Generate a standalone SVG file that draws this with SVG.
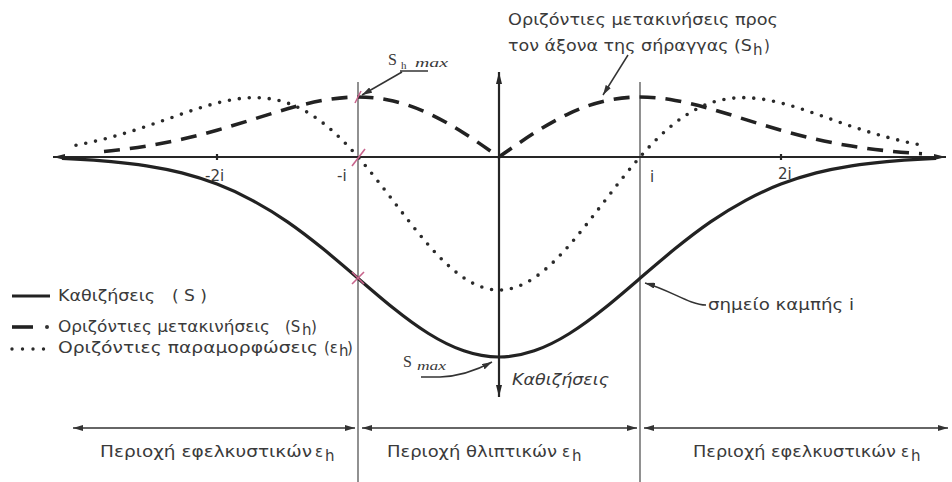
<svg xmlns="http://www.w3.org/2000/svg" width="952" height="482" viewBox="0 0 952 482">
<style>
.t{font-family:"DejaVu Sans","Liberation Sans",sans-serif;font-size:15px;fill:#3a3a3a}
.s{font-family:"Liberation Serif","DejaVu Serif",serif;fill:#3a3a3a}
.ax{stroke:#262626;stroke-width:2.2;fill:none}
.vl{stroke:#555;stroke-width:1.3;fill:none}
.crv{fill:none;stroke:#222;stroke-width:3.2;stroke-linejoin:round}
.dsh{fill:none;stroke:#222;stroke-width:3.6;stroke-dasharray:16 10}
.dot{fill:none;stroke:#2a2a2a;stroke-width:3.6;stroke-linecap:round;stroke-dasharray:0 10}
.ld{fill:none;stroke:#333;stroke-width:1.5}
.dim{fill:none;stroke:#333;stroke-width:1.6}
.red{stroke:#c8648c;stroke-width:1.6;fill:none}
</style>
<defs>
<marker id="ah" viewBox="0 0 12 6" refX="12" refY="3" markerWidth="12" markerHeight="6" markerUnits="userSpaceOnUse" orient="auto-start-reverse"><path d="M0,0 L12,3 L0,6 z" fill="#262626"/></marker>
<marker id="ahs" viewBox="0 0 10 6" refX="10" refY="3" markerWidth="10" markerHeight="6" markerUnits="userSpaceOnUse" orient="auto-start-reverse"><path d="M0,0 L10,3 L0,6 z" fill="#333"/></marker>
</defs>

<g id="axes">
<line class="vl" x1="358" y1="82" x2="358" y2="482"/>
<line class="vl" x1="640" y1="82" x2="640" y2="482"/>
<line class="ax" x1="53" y1="157" x2="946" y2="157" marker-start="url(#ah)" marker-end="url(#ah)"/>
<line class="ax" x1="499" y1="72" x2="499" y2="397" stroke-width="2.6" marker-start="url(#ah)" marker-end="url(#ah)"/>
<line class="ax" x1="217" y1="154" x2="217" y2="160" stroke-width="1.5"/>
<line class="ax" x1="781" y1="154" x2="781" y2="160" stroke-width="1.5"/>
<text class="t" x="205" y="181" font-size="14">-2i</text>
<text class="t" x="337" y="181" font-size="14">-i</text>
<text class="t" x="650" y="182" font-size="14">i</text>
<text class="t" x="778" y="179" font-size="14">2i</text>
</g>

<g id="curves">
<path id="settlement" class="crv" d="M62,158.5 L76,159.2 C87.75,159.76 99.5,160.55 111.25,161.6 S134.75,163.97 146.5,165.8 S170,169.91 181.75,172.9 S205.25,179.59 217,184.1 S240.5,193.99 252.25,200.3 S275.75,213.78 287.5,221.9 S311,239.06 322.75,248.6 S346.25,268.19 358,278.3 S381.5,298.56 393.25,308 S416.75,326.14 428.5,333.5 S452,346.76 463.75,350.8 S487.25,357 499,357 S522.5,354.84 534.25,350.8 S557.75,340.86 569.5,333.5 S593,317.44 604.75,308 S628.25,288.41 640,278.3 S663.5,258.14 675.25,248.6 S698.75,230.02 710.5,221.9 S734,206.61 745.75,200.3 S769.25,188.61 781,184.1 S804.5,175.89 816.25,172.9 S839.75,167.63 851.5,165.8 S875,162.65 886.75,161.6 S910.25,159.76 922,159.2 L936,158.5"/>
<path id="displacement" class="dsh" d="M104,151.5 L111.25,150.8 C123,149.57 134.75,148 146.5,146.1 S170,141.97 181.75,139.3 S205.25,133.55 217,130.2 S240.5,123.28 252.25,119.6 S275.75,112.15 287.5,108.8 S311,102.52 322.75,100.4 S346.25,97 358,97 S381.5,98.28 393.25,101 S416.75,107.89 428.5,113.35 S452,125.51 463.75,133 S487.25,148.76 499,157 C510.75,148.76 522.5,140.49 534.25,133 S557.75,118.81 569.5,113.35 S593,103.72 604.75,101 S628.25,97 640,97 S663.5,98.28 675.25,100.4 S698.75,105.45 710.5,108.8 S734,115.92 745.75,119.6 S769.25,126.85 781,130.2 S804.5,136.63 816.25,139.3 S839.75,144.2 851.5,146.1 S875,149.57 886.75,150.8 S910.25,152.97 922,153.7"/>
<path id="strain" class="dot" d="M76,145.2 C87.75,142.99 99.5,140.27 111.25,137.1 S134.75,130.26 146.5,126.3 S170,118.09 181.75,114 S205.25,106 217,103 S240.5,97.96 252.25,97.7 S275.75,98.95 287.5,103 S311,113.68 322.75,122.8 S346.25,143.56 358,157 S381.5,185.61 393.25,200.9 S416.75,231.55 428.5,245 S452,269.91 463.75,277.8 S487.25,290 499,290 S522.5,285.69 534.25,277.8 S557.75,258.45 569.5,245 S593,216.19 604.75,200.9 S628.25,170.44 640,157 S663.5,131.92 675.25,122.8 S698.75,107.05 710.5,103 S734,97.44 745.75,97.7 S769.25,100 781,103 S804.5,109.91 816.25,114 S839.75,122.34 851.5,126.3 S875,133.93 886.75,137.1 S910.25,142.99 922,145.2"/>
</g>

<g id="marks">
<line class="red" x1="355" y1="103" x2="361" y2="91"/>
<line class="red" x1="352" y1="166" x2="365" y2="149"/>
<line class="red" x1="352" y1="272" x2="364" y2="284"/>
<line class="red" x1="352" y1="284" x2="364" y2="272"/>
</g>

<g id="connectors">
<line class="ld" x1="402" y1="72" x2="362" y2="95" marker-end="url(#ahs)"/>
<line class="ld" x1="400" y1="71" x2="428" y2="71"/>
<line class="ld" x1="628" y1="55" x2="603" y2="95" stroke-width="1.8" marker-end="url(#ahs)"/>
<path class="ld" d="M421,377 L440,377 Q466,376 492,362" marker-end="url(#ahs)"/>
<path class="ld" d="M706,305 C690,305 670,290 645,283" marker-end="url(#ahs)"/>
<line class="dim" x1="73" y1="428" x2="355" y2="428" marker-start="url(#ahs)" marker-end="url(#ahs)"/>
<line class="dim" x1="362" y1="428" x2="637" y2="428" marker-start="url(#ahs)" marker-end="url(#ahs)"/>
<line class="dim" x1="644" y1="428" x2="948" y2="428" marker-start="url(#ahs)" marker-end="url(#ahs)"/>
</g>

<g id="label-top">
<text class="t" x="508" y="25" textLength="270" lengthAdjust="spacingAndGlyphs">Οριζόντιες μετακινήσεις προς</text>
<text class="t" x="508" y="51" textLength="244" lengthAdjust="spacingAndGlyphs">τον άξονα της σήραγγας (S</text>
<text class="t" x="753" y="55" font-size="11">h</text>
<text class="t" x="764" y="51">)</text>
</g>

<g id="label-shmax">
<text class="s" x="388" y="65" font-size="16">S</text>
<text class="s" x="401" y="69" font-size="11">h</text>
<text class="s" x="415" y="67" font-size="13" font-style="italic" textLength="33" lengthAdjust="spacingAndGlyphs">max</text>
</g>

<g id="label-smax">
<text class="s" x="403" y="367" font-size="16">S</text>
<text class="s" x="417" y="370" font-size="12" font-style="italic" textLength="29" lengthAdjust="spacingAndGlyphs">max</text>
</g>

<g id="label-axis">
<text class="t" x="512" y="385" font-style="italic" textLength="97" lengthAdjust="spacingAndGlyphs">Καθιζήσεις</text>
</g>

<g id="label-inflection">
<text class="t" x="708" y="310" textLength="146" lengthAdjust="spacingAndGlyphs">σημείο καμπής i</text>
</g>

<g id="legend">
<line x1="12" y1="296" x2="50" y2="296" stroke="#222" stroke-width="3.2"/>
<text class="t" x="58" y="301" textLength="97" lengthAdjust="spacingAndGlyphs">Καθιζήσεις</text>
<text class="t" x="172" y="301" textLength="35" lengthAdjust="spacingAndGlyphs">( S )</text>
<line x1="12" y1="327" x2="33" y2="327" stroke="#222" stroke-width="3.6"/>
<circle cx="47" cy="327" r="2" fill="#333"/>
<text class="t" x="58" y="332" textLength="212" lengthAdjust="spacingAndGlyphs">Οριζόντιες μετακινήσεις</text>
<text class="t" x="285" y="332">(S</text>
<text class="t" x="302" y="335" font-size="10">h</text>
<text class="t" x="311" y="332">)</text>
<line x1="12" y1="349" x2="44" y2="349" stroke="#2a2a2a" stroke-width="3.4" stroke-linecap="round" stroke-dasharray="0 10.5"/>
<text class="t" x="58" y="353" textLength="260" lengthAdjust="spacingAndGlyphs">Οριζόντιες παραμορφώσεις</text>
<text class="t" x="324" y="353">(ε</text>
<text class="t" x="339" y="356" font-size="10">h</text>
<text class="t" x="347" y="353">)</text>
</g>

<g id="regions">
<text class="t" x="100" y="457" textLength="212" lengthAdjust="spacingAndGlyphs">Περιοχή εφελκυστικών</text>
<text class="t" x="315" y="457" font-size="17">ε</text>
<text class="t" x="325" y="461" font-size="10">h</text>
<text class="t" x="387" y="457" textLength="170" lengthAdjust="spacingAndGlyphs">Περιοχή θλιπτικών</text>
<text class="t" x="562" y="457" font-size="17">ε</text>
<text class="t" x="572" y="461" font-size="10">h</text>
<text class="t" x="693" y="457" textLength="203" lengthAdjust="spacingAndGlyphs">Περιοχή εφελκυστικών</text>
<text class="t" x="901" y="457" font-size="17">ε</text>
<text class="t" x="911" y="461" font-size="10">h</text>
</g>
</svg>
